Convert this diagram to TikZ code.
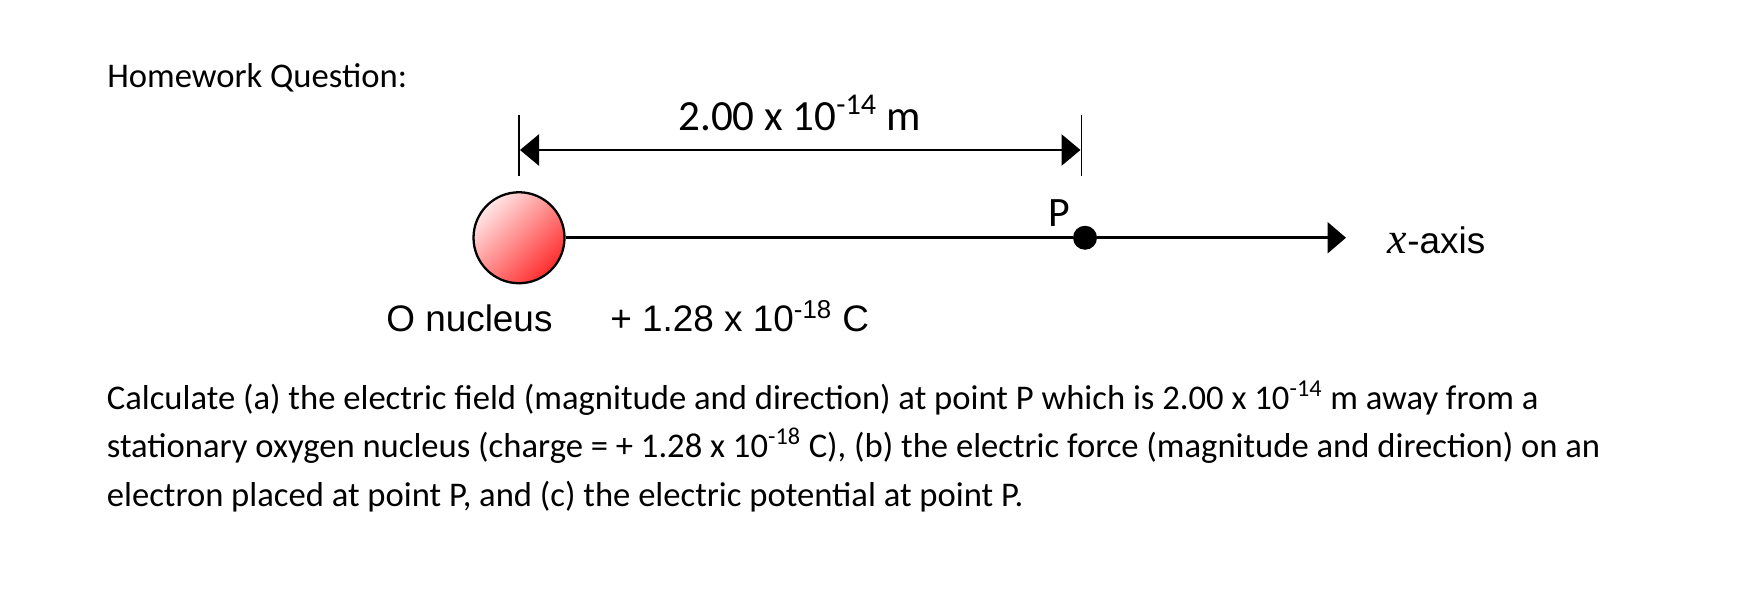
\documentclass[tikz,border=0pt]{standalone}
\usepackage{fontspec}
\usepackage{tikz}
\usetikzlibrary{arrows.meta}
\setmainfont{Carlito}
\newfontfamily\arialfont{Liberation Sans}
\newfontfamily\timesfont{Liberation Serif}
\definecolor{nucleuslight}{RGB}{255,230,230}
\definecolor{nucleusdark}{RGB}{255,45,45}
\tikzset{
  txt/.style={anchor=base west,inner sep=0pt},
  nucleus/.style={circle,draw,line width=1.3pt,minimum size=1.82cm,inner sep=0pt,
    top color=nucleuslight,bottom color=nucleusdark,shading angle=45},
  pdot/.style={circle,fill=black,minimum size=0.48cm,inner sep=0pt},
  tip/.style={-{Triangle[length=0.37cm,width=0.62cm]}}
}

\begin{document}
\begin{tikzpicture}
\useasboundingbox (0,0) rectangle (34.76,11.88);
\node[txt] (title) at (2.14,10.13) {\fontsize{19.7}{23}\selectfont Homework Question:};
% dimension line
\coordinate (ltop) at (10.38,9.58);
\coordinate (lbot) at (10.38,8.36);
\coordinate (rtop) at (21.63,9.58);
\coordinate (rbot) at (21.63,8.36);
\draw[line width=1pt] (ltop) -- (lbot);
\draw[line width=1pt] (rtop) -- (rbot);
\coordinate (dl) at (10.40,8.88);
\coordinate (dr) at (21.61,8.88);
\draw[line width=1.6pt,{Triangle[length=0.38cm,width=0.62cm]}-{Triangle[length=0.38cm,width=0.62cm]}] (dl) -- (dr);
\node[txt] (dist) at (13.56,9.28) {\fontsize{24.5}{28}\selectfont 2.00 x 10\textsuperscript{-14} m};
% axis
\node[nucleus] (O) at (10.38,7.125) {};
\node[pdot] (P) at (21.70,7.125) {};
\coordinate (xend) at (26.92,7.125);
\draw[line width=1.6pt] (O) -- (P);
\draw[line width=1.6pt,tip] (P) -- (xend);
\node[txt] (Plab) at (20.97,7.35) {\fontsize{23.8}{28}\selectfont P};
\node[txt] (xlab) at (27.75,6.81) {{\fontsize{25}{28}\selectfont\timesfont\itshape x}{\fontsize{21}{25}\selectfont\arialfont -axis}};
\node[txt] (Olab) at (7.72,5.25) {\fontsize{21}{25}\selectfont\arialfont O nucleus};
\node[txt] (qlab) at (12.20,5.25) {\fontsize{21}{25}\selectfont\arialfont + 1.28 x 10\textsuperscript{-18} C};
% question text
\node[txt] (line1) at (2.13,3.69) {\fontsize{19.7}{23}\selectfont Calculate (a) the electric field (magnitude and direction) at point P which is 2.00 x 10\textsuperscript{-14} m away from a};
\node[txt] (line2) at (2.13,2.73) {\fontsize{19.7}{23}\selectfont stationary oxygen nucleus (charge = + 1.28 x 10\textsuperscript{-18} C), (b) the electric force (magnitude and direction) on an};
\node[txt] (line3) at (2.13,1.76) {\fontsize{19.7}{23}\selectfont electron placed at point P, and (c) the electric potential at point P.};
\end{tikzpicture}
\end{document}
